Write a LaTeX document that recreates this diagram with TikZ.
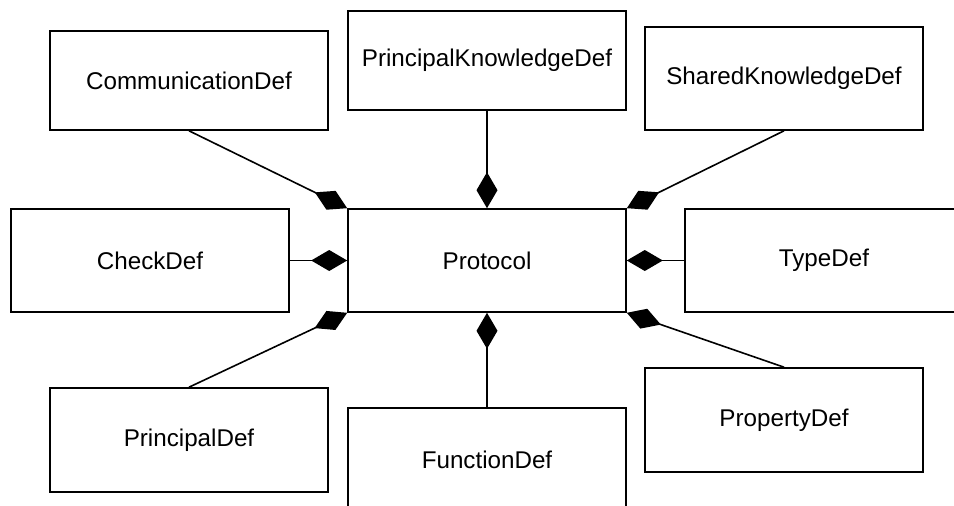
\documentclass[tikz,border=0pt]{standalone}
\usepackage{fontspec}
\setmainfont{Liberation Sans}
\usetikzlibrary{arrows.meta}
\begin{document}
\begin{tikzpicture}[x=1pt,y=-1pt,
  cls/.style={draw=black, line width=1.6pt, fill=white, minimum width=278pt,
    inner sep=0pt, font=\fontsize{24.2}{29}\selectfont},
  comp/.style={line width=1.6pt, {Diamond[length=36pt,width=21pt]}-}]
\clip (0,0) rectangle (954,506);
\fill[white] (0,0) rectangle (954,506);

% central class
\node[cls, minimum height=103pt] (proto) at (487,260.5) {Protocol};

% surrounding classes
\node[cls, minimum height=99pt]  (comm)   at (189,80.5)  {CommunicationDef};
\node[cls, minimum height=99pt]  (pkd)    at (487,60.5)  {PrincipalKnowledgeDef};
\node[cls, minimum height=103pt] (shared) at (784,78.5)  {SharedKnowledgeDef};
\node[cls, minimum height=103pt] (check)  at (150,260.5) {CheckDef};
\node[cls, minimum height=103pt] (type)   at (824,260.5) {TypeDef};
\node[cls, minimum height=104pt] (princ)  at (189,440)   {PrincipalDef};
\node[cls, minimum height=103pt] (func)   at (487,459.5) {FunctionDef};
\node[cls, minimum height=104pt] (prop)   at (784,420)   {PropertyDef};

% composition links
\draw[comp] (proto.north west) -- (comm.south);
\draw[comp] (proto.north) -- (pkd.south);
\draw[comp] (proto.north east) -- (shared.south);
\draw[comp] (proto.west) -- (check.east);
\draw[comp] (proto.east) -- (type.west);
\draw[comp] (proto.south west) -- (princ.north);
\draw[comp] (proto.south) -- (func.north);
\draw[comp] (proto.south east) -- (prop.north);
\end{tikzpicture}
\end{document}
